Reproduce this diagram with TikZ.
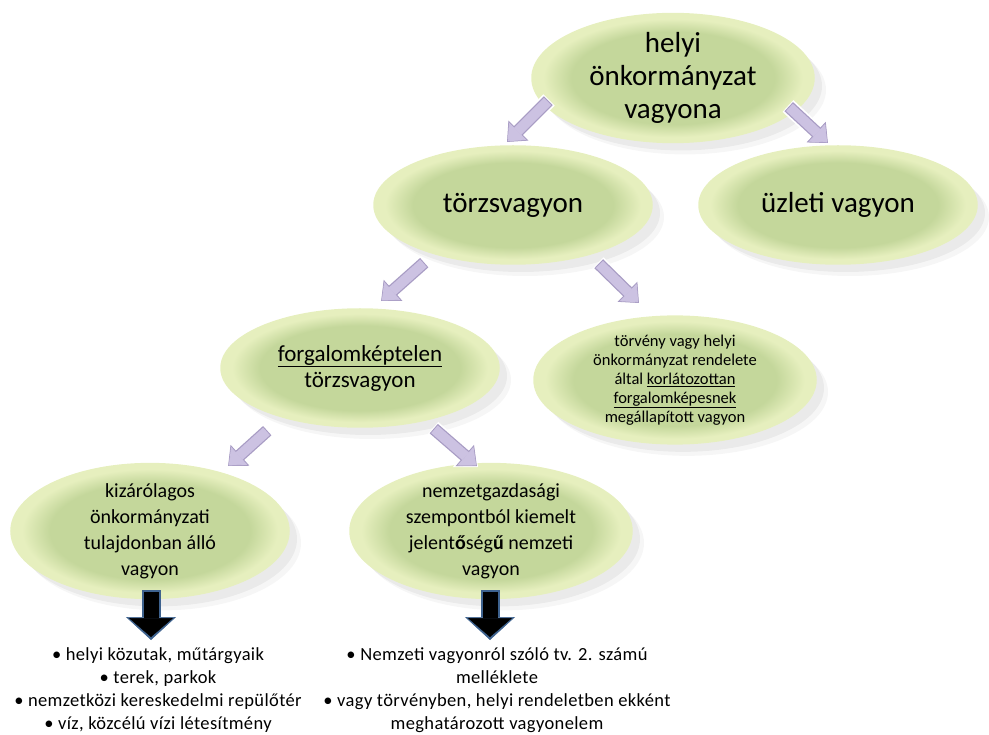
\documentclass[tikz,border=0pt]{standalone}
\usepackage{fontspec}
\setmainfont{Carlito}
\newfontfamily\listfont[LetterSpace=2]{Carlito}
\usetikzlibrary{shapes.geometric,arrows.meta,shadows,calc}

\definecolor{ellgreen}{RGB}{196,215,155}
\definecolor{ellrim}{RGB}{230,239,190}
\definecolor{lav}{RGB}{204,194,226}
\definecolor{lavdark}{RGB}{168,156,196}
\definecolor{arrblue}{RGB}{62,98,142}
\pgfdeclareradialshading{ellglow}{\pgfpoint{0bp}{0bp}}{color(0bp)=(ellgreen); color(18bp)=(ellgreen); color(23bp)=(ellrim); color(25bp)=(ellrim); color(50bp)=(ellrim)}

\tikzset{
  ell/.style={ellipse, shading=ellglow, minimum width=278pt, minimum height=118pt,
    inner sep=0pt, align=center, draw=ellrim, line width=1.5pt,
    drop shadow={shadow xshift=12pt, shadow yshift=-12pt, opacity=.07},
    drop shadow={shadow xshift=8pt, shadow yshift=-8pt, opacity=.10}},
  bigtxt/.style={font=\fontsize{29}{33}\selectfont},
  midtxt/.style={font=\fontsize{23}{26}\selectfont},
  smltxt/.style={font=\fontsize{20}{26}\selectfont},
  tinytxt/.style={font=\fontsize{16.5}{19}\selectfont},
  listtxt/.style={align=center, inner sep=0pt, font=\listfont\fontsize{18.5}{23}\selectfont},
  lavarrow/.style={line width=10pt, draw=lav, shorten >=2.5pt, shorten <=2pt,
    -{Triangle[length=14pt,width=24pt,line width=0.8pt]},
    preaction={draw=white, line width=16pt, shorten >=0pt, shorten <=0pt,
      -{Triangle[length=19pt,width=33pt,line width=0.8pt]}},
    preaction={draw=lavdark, line width=12.5pt, shorten >=1.5pt, shorten <=1pt,
      -{Triangle[length=16pt,width=28pt,line width=0.8pt]}}},
  blkarrow/.style={line width=15pt, draw=black, shorten >=3pt,
    -{Triangle[length=19pt,width=44pt,line width=0.5pt]},
    preaction={draw=arrblue, line width=19pt, shorten <=-2pt, shorten >=0pt,
      -{Triangle[length=23pt,width=50pt,line width=0.5pt]}}}
}

\begin{document}
\begin{tikzpicture}[x=1pt,y=-1pt]
  \useasboundingbox (0,0) rectangle (989,735);

  % ellipses
  \node[ell, bigtxt, minimum width=282pt, minimum height=126pt] (top) at (673,78) {helyi\\önkormányzat\\vagyona};
  \node[ell, bigtxt] (torzs) at (513,205) {törzsvagyon};
  \node[ell, bigtxt] (uzleti) at (838,205) {üzleti vagyon};
  \node[ell, midtxt] (forg) at (360,368) {\underline{forgalomképtelen}\\törzsvagyon};
  \node[ell, tinytxt, minimum width=282pt] (torveny) at (675,380)
    {törvény vagy helyi\\önkormányzat rendelete\\által \underline{korlátozottan}\\\underline{forgalomképesnek}\\megállapított vagyon};
  \node[ell, smltxt, minimum height=120pt] (kiz) at (150,531)
    {kizárólagos\\önkormányzati\\tulajdonban álló\\vagyon};
  \node[ell, smltxt, minimum width=282pt, minimum height=120pt] (nemz) at (491,531)
    {nemzetgazdasági\\szempontból kiemelt\\jelent\textbf{ő}ség\textbf{ű} nemzeti\\vagyon};

  % lists
  \node[listtxt] (listL) at (158,690)
    {• helyi közutak, műtárgyaik\\• terek, parkok\\• nemzetközi kereskedelmi repülőtér\\• víz, közcélú vízi létesítmény};
  \node[listtxt] (listR) at (497,690)
    {• Nemzeti vagyonról szóló tv. 2. számú\\melléklete\\• vagy törvényben, helyi rendeletben ekként\\meghatározott vagyonelem};

  % arrows
  \draw[lavarrow] ($(top)+(-124,22)$) -- ($(torzs)+(-7,-62)$);
  \draw[lavarrow] ($(top)+(115,28)$) -- ($(uzleti)+(-9,-61)$);
  \draw[lavarrow] ($(torzs)+(-88,57)$) -- ($(forg)+(20,-66)$);
  \draw[lavarrow] ($(torzs)+(85,58)$) -- ($(torveny)+(-35,-76)$);
  \draw[lavarrow] ($(forg)+(-92,62)$) -- ($(kiz)+(77,-64)$);
  \draw[lavarrow] ($(forg)+(73,60)$) -- ($(nemz)+(-13,-64)$);
  \draw[blkarrow] ($(kiz)+(1,61)$) -- ($(listL)+(-7,-50)$);
  \draw[blkarrow] ($(nemz)+(-1,61)$) -- ($(listR)+(-7,-50)$);
\end{tikzpicture}
\end{document}
